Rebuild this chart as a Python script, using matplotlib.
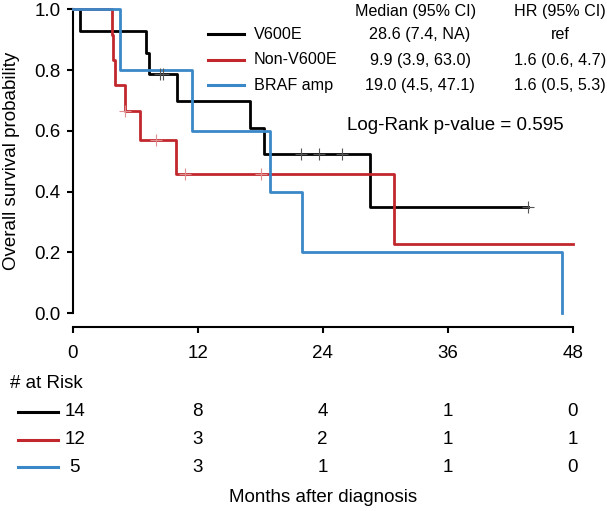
import numpy as np
import matplotlib
matplotlib.use("Agg")
import matplotlib.pyplot as plt
from matplotlib import transforms
from matplotlib.lines import Line2D

plt.rcParams["font.family"] = ["Liberation Sans", "DejaVu Sans"]

# Kaplan-Meier steps (months, survival)
v600e_t = [0, 0.7, 7.0, 7.35, 10.0, 17.0, 18.35, 28.5, 43.7]
v600e_s = [1.0, 0.929, 0.857, 0.786, 0.698, 0.611, 0.524, 0.349, 0.349]
v600e_cens_t = [8.4, 8.7, 21.9, 23.6, 25.9, 43.7]
v600e_cens_s = [0.786, 0.786, 0.524, 0.524, 0.524, 0.349]

non_t = [0, 3.74, 3.9, 4.06, 5.02, 6.46, 9.9, 30.8, 48.0]
non_s = [1.0, 0.917, 0.833, 0.75, 0.667, 0.571, 0.457, 0.229, 0.229]
non_cens_t = [5.02, 8.0, 10.8, 18.1]
non_cens_s = [0.667, 0.571, 0.457, 0.457]

amp_t = [0, 4.54, 11.42, 18.93, 21.98, 47.0]
amp_s = [1.0, 0.8, 0.6, 0.4, 0.2, 0.0]

groups = ["V600E", "Non-V600E", "BRAF amp"]
medians = ["28.6 (7.4, NA)", "9.9 (3.9, 63.0)", "19.0 (4.5, 47.1)"]
hrs = ["ref", "1.6 (0.6, 4.7)", "1.6 (0.5, 5.3)"]
colors = ["#000000", "#c1272d", "#3b88c8"]
cens_colors = ["#555555", "#e09090", "#3b88c8"]

risk_months = [0, 12, 24, 36, 48]
risk_v600e = [14, 8, 4, 1, 0]
risk_non = [12, 3, 2, 1, 1]
risk_amp = [5, 3, 1, 1, 0]

W, H = 607, 511


def fx(px):
    return px / W


def fy(py):
    return 1 - py / H


fig = plt.figure(figsize=(W / 100, H / 100), dpi=100)
ax = fig.add_axes([fx(72.7), fy(313.3), (572.7 - 72.7) / W, (313.3 - 9.3) / H])

curves = [(v600e_t, v600e_s), (non_t, non_s), (amp_t, amp_s)]
for (t, s), c in zip(curves, colors):
    ax.step(t, s, where="post", color=c, lw=2.0, clip_on=False, zorder=3)
ax.plot(v600e_cens_t, v600e_cens_s, "+", color=cens_colors[0], ms=9, mew=0.8,
        clip_on=False, zorder=4)
ax.plot(non_cens_t, non_cens_s, "+", color=cens_colors[1], ms=9, mew=0.8,
        clip_on=False, zorder=4)

ax.set_xlim(0, 48)
ax.set_ylim(0, 1)
ax.set_xticks(risk_months)
ax.set_yticks([0.0, 0.2, 0.4, 0.6, 0.8, 1.0])
ax.set_yticklabels(["0.0", "0.2", "0.4", "0.6", "0.8", "1.0"])
for side in ["top", "right"]:
    ax.spines[side].set_visible(False)
ax.spines["left"].set_linewidth(1.5)
ax.spines["bottom"].set_linewidth(1.5)
ax.spines["bottom"].set_position(("outward", 10))
ax.tick_params(axis="x", direction="out", length=4.3, width=1.5, pad=8.5,
               labelsize=13.5)
ax.tick_params(axis="y", direction="out", length=4.3, width=1.5, pad=4.5,
               labelsize=13.5)

fig.text(fx(12), fy(161), "Overall survival probability", rotation=90,
         ha="center", va="center", fontsize=13.5)

# legend with median / HR columns
fig.text(fx(415.5), fy(11.7), "Median (95% CI)", ha="center", va="center",
         fontsize=11.6)
fig.text(fx(560), fy(11.7), "HR (95% CI)", ha="center", va="center",
         fontsize=11.6)
row_y = [34.5, 60, 85.5]
for i, g in enumerate(groups):
    fig.add_artist(Line2D([fx(207.7), fx(244.3)], [fy(row_y[i]), fy(row_y[i])],
                          color=colors[i], lw=2.2))
    fig.text(fx(254), fy(row_y[i]), g, ha="left", va="center", fontsize=11.6)
    fig.text(fx(420), fy(row_y[i]), medians[i], ha="center", va="center",
             fontsize=11.6)
    fig.text(fx(560), fy(row_y[i]), hrs[i], ha="center", va="center",
             fontsize=11.6)

fig.text(fx(347), fy(125), "Log-Rank p-value = 0.595", ha="left",
         va="center", fontsize=13.5)

# number at risk table
trans = transforms.blended_transform_factory(ax.transData, fig.transFigure)
fig.text(fx(10), fy(384), "# at Risk", ha="left", va="center", fontsize=13.5)
risk_rows = [risk_v600e, risk_non, risk_amp]
risk_y = [412, 439.5, 467]
for i, row in enumerate(risk_rows):
    fig.add_artist(Line2D([fx(18.3), fx(58.3)], [fy(risk_y[i]), fy(risk_y[i])],
                          color=colors[i], lw=2.2))
    for m, n in zip(risk_months, row):
        xm = m + 0.2 if m == 0 else m
        ax.text(xm, fy(risk_y[i]), str(n), transform=trans, ha="center",
                va="center", fontsize=13.5)

ax.text(24, fy(497), "Months after diagnosis", transform=trans, ha="center",
        va="center", fontsize=13.5)

fig.savefig("out.png", dpi=100)
